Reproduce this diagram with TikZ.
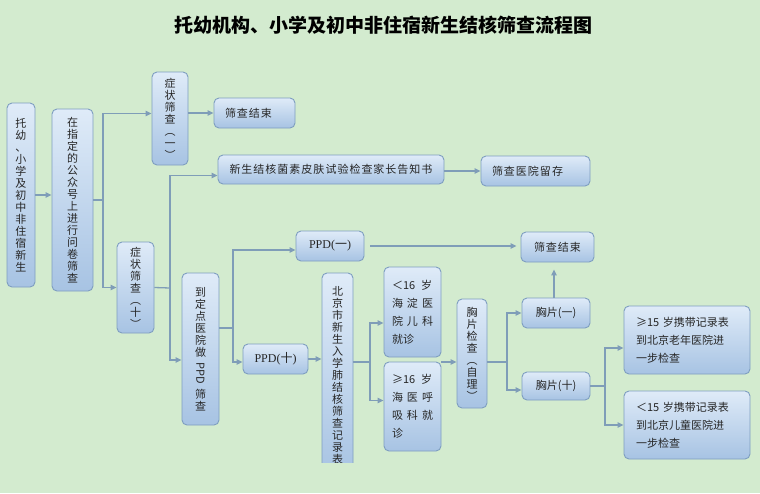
\documentclass[tikz,border=0pt]{standalone}
\usepackage{fontspec}
\setmainfont{Liberation Serif}
\newfontfamily\cjk{Noto Sans CJK SC}
\usetikzlibrary{arrows.meta}
\definecolor{beijing}{HTML}{D3EBCF}
\definecolor{kuangshang}{HTML}{DFEBF8}
\definecolor{kuangxia}{HTML}{A7C3E3}
\definecolor{kuangbian}{HTML}{7E9EC0}
\definecolor{xianse}{HTML}{7F9DB8}
\definecolor{zise}{HTML}{262626}

\begin{document}
\begin{tikzpicture}[x=1pt,y=-1pt]
\tikzset{kuang/.style={draw=kuangbian, line width=0.9pt, rounded corners=5pt, top color=kuangshang, bottom color=kuangxia, text=zise, inner sep=0pt, font=\cjk\fontsize{11}{12}\selectfont, align=center},
duan/.style={font=\cjk\fontsize{11}{18}\selectfont, align=left},
xian/.style={draw=xianse, line width=1.3pt},
jian/.style={xian, -{Triangle[length=6pt,width=5.5pt]}}}
\fill[beijing] (0,0) rectangle (760,493);
\useasboundingbox (0,0) rectangle (760,493);
\node[font=\cjk\bfseries\fontsize{19}{22}\selectfont] (T) at (383,25) {托幼机构、小学及初中非住宿新生结核筛查流程图};
\node[kuang, minimum width=28pt, minimum height=184pt] (K1) at (21,195) {托\\幼\\、\\小\\学\\及\\初\\中\\非\\住\\宿\\新\\生};
\node[kuang, minimum width=41pt, minimum height=182pt] (K2) at (72.5,200) {在\\指\\定\\的\\公\\众\\号\\上\\进\\行\\问\\卷\\筛\\查};
\node[kuang, minimum width=36pt, minimum height=93pt] (K3) at (170,118.5) {症\\状\\筛\\查\\︵\\一\\︶};
\node[kuang, minimum height=30pt, text width=59pt, inner xsep=11pt, align=left] (K4) at (254.5,113) {筛\kern1pt 查\kern1pt 结\kern1pt 束};
\node[kuang, minimum width=37pt, minimum height=91pt] (K5) at (135.5,287.5) {症\\状\\筛\\查\\︵\\十\\︶};
\node[kuang, minimum width=226pt, minimum height=29pt] (K6) at (331,169.5) {新\kern1pt 生\kern1pt 结\kern1pt 核\kern1pt 菌\kern1pt 素\kern1pt 皮\kern1pt 肤\kern1pt 试\kern1pt 验\kern1pt 检\kern1pt 查\kern1pt 家\kern1pt 长\kern1pt 告\kern1pt 知\kern1pt 书};
\node[kuang, minimum height=30pt, text width=87pt, inner xsep=11pt, align=left] (K7) at (535.5,171) {筛\kern1pt 查\kern1pt 医\kern1pt 院\kern1pt 留\kern1pt 存};
\node[kuang, minimum width=37pt, minimum height=152pt] (K8) at (200.5,349) {到\\定\\点\\医\\院\\做\\[4pt]\rotatebox[origin=c]{-90}{PPD}\\[4pt]筛\\查};
\node[kuang, minimum width=68pt, minimum height=30pt, font=\fontsize{12}{14}\selectfont] (K9) at (330,246) {PPD({\cjk 一})};
\node[kuang, minimum width=73pt, minimum height=30pt] (K10) at (557.5,247) {筛\kern1pt 查\kern1pt 结\kern1pt 束};
\node[kuang, minimum width=65pt, minimum height=30pt, font=\fontsize{12}{14}\selectfont] (K11) at (275.5,359) {PPD({\cjk 十})};
\begin{scope}
\clip (300,265) rectangle (380,462);
\node[kuang, minimum width=31pt, minimum height=204pt] (K12) at (337.5,375) {北\\京\\市\\新\\生\\入\\学\\肺\\结\\核\\筛\\查\\记\\录\\表};
\end{scope}
\node[kuang, duan, minimum width=57pt, minimum height=90pt] (K13) at (412.5,312) {＜16\hspace{6pt}岁\\海\hspace{4pt}淀\hspace{4pt}医\\院\hspace{4pt}儿\hspace{4pt}科\\就诊};
\node[kuang, duan, minimum width=57pt, minimum height=89pt] (K14) at (412.5,406.5) {≥16\hspace{6pt}岁\\海\hspace{4pt}医\hspace{4pt}呼\\吸\hspace{4pt}科\hspace{4pt}就\\诊};
\node[kuang, minimum width=30pt, minimum height=109pt] (K15) at (472,353.5) {胸\\片\\检\\查\\︵\\自\\理\\︶};
\node[kuang, minimum width=68pt, minimum height=30pt] (K16) at (556,313) {胸片(一)};
\node[kuang, minimum width=68pt, minimum height=28pt] (K17) at (556,386) {胸片(十)};
\node[kuang, duan, minimum width=126pt, minimum height=68pt, text width=102pt] (K18) at (687,340) {≥15\ 岁携带记录表\\到北京老年医院进\\一步检查};
\node[kuang, duan, minimum width=126pt, minimum height=68pt, text width=102pt] (K19) at (687,425) {＜15\ 岁携带记录表\\到北京儿童医院进\\一步检查};
\coordinate (F1) at (103,200);
\coordinate (F2) at (170,288);
\coordinate (F3) at (233,328);
\coordinate (F4) at (370,362);
\coordinate (F5) at (441,362);
\coordinate (F6) at (507,362);
\coordinate (F7) at (605,386);
\draw[jian] (K1.east) -- (K1.east -| K2.west);
\draw[xian] (K2.east) -- (F1);
\draw[jian] (F1) |- ([yshift=5pt]K3.west);
\draw[jian] (F1) |- (K5);
\draw[jian] (K3.east |- K4) -- (K4);
\draw[xian] (K5.east) -- (F2);
\draw[jian] (F2) |- ([yshift=-6pt]K6.west);
\draw[jian] (F2) |- ([yshift=-11pt]K8.west);
\draw[jian] (K6.east |- K7) -- (K7);
\draw[xian] (F3 -| K8.east) -- (F3);
\draw[jian] (F3) |- ([yshift=-4pt]K9.west);
\draw[jian] (F3) |- ([yshift=-3pt]K11.west);
\draw[jian, shorten <=6pt, shorten >=4pt] (K9.east) -- (K9.east -| K10.west);
\draw[jian] (K11.east) -- (K11.east -| K12.west);
\draw[xian] (F4 -| K12.east) -- (F4);
\draw[jian] (F4) |- ([yshift=-11pt]K13.west);
\draw[jian] (F4) |- ([yshift=6pt]K14.west);
\draw[jian] (F5) -- (F5 -| K15.west);
\draw[xian] (F6 -| K15.east) -- (F6);
\draw[jian] (F6) |- (K16);
\draw[jian] (F6) |- ([yshift=-4pt]K17.west);
\draw[jian, shorten >=7pt] ([xshift=-2pt]K16.north) -- ([xshift=-2pt]K16.north |- K10.south);
\draw[xian] (K17.east) -- (F7);
\draw[jian] (F7) |- ([yshift=-8pt]K18.west);
\draw[jian] (F7) |- (K19);
\end{tikzpicture}
\end{document}
